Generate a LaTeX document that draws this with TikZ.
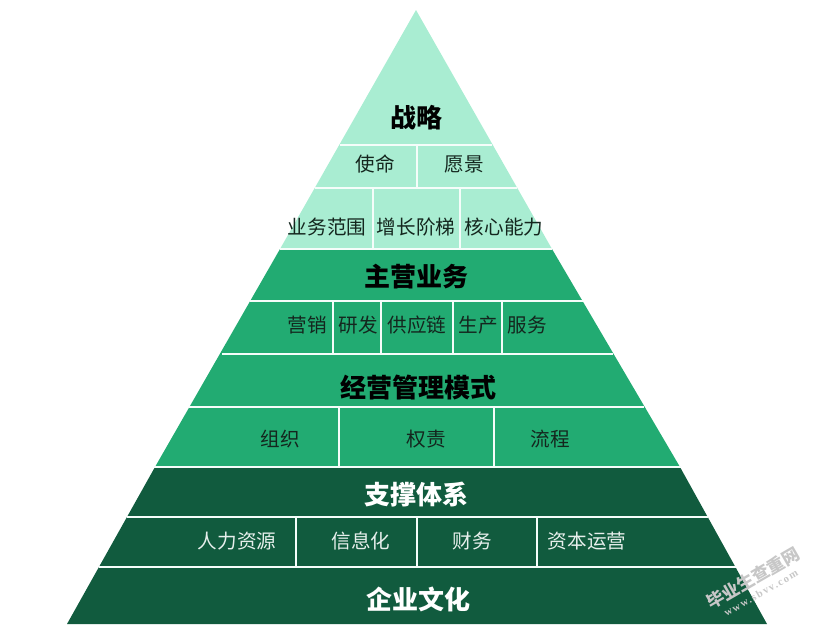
\documentclass[tikz,border=0pt]{standalone}
\usepackage{fontspec}
\setmainfont{Noto Sans CJK SC}
\newfontfamily\sitefont[LetterSpace=14]{Liberation Serif}
\usepackage{xcolor}
\definecolor{LightTier}{HTML}{A9EDD2}
\definecolor{MidTier}{HTML}{22AB72}
\definecolor{DarkTier}{HTML}{115B3E}
\definecolor{DarkInk}{HTML}{14261E}
\tikzset{
  rule/.style={draw=white!88!LightTier,line width=1.1pt},
  item/.style={inner sep=0pt,font=\fontsize{14.7pt}{15pt}\selectfont,text=DarkInk},
  title/.style={inner sep=0pt,font=\fontsize{19.5pt}{19.5pt}\selectfont\bfseries,text=black},
  itemw/.style={item,text=white!90!DarkTier},
  titlew/.style={title,text=white},
  mark text/.style={inner sep=0pt,rotate=30,text=black!22}
}
\begin{document}
\begin{tikzpicture}[x=0.75pt,y=-0.75pt]
\useasboundingbox (0,0) rectangle (824,628);

% tiers
\fill[LightTier](416,10)--(552,249)--(280,249)--cycle;
\fill[MidTier](280,249)--(552,249)--(680,467)--(155,467)--cycle;
\fill[DarkTier](155,467)--(680,467)--(767,624)--(67,624)--cycle;

% horizontal rules
\draw[rule](340,145)--(492,145);
\draw[rule](315,188)--(517,188);
\draw[rule](280,249)--(552,249);
\draw[rule](250,301)--(583,301);
\draw[rule](222,354)--(613,354);
\draw[rule](189,407)--(644,407);
\draw[rule](154,467)--(681,467);
\draw[rule](127,517)--(708,517);
\draw[rule](99,567)--(736,567);

% cell dividers
\foreach \x in {417}
  \draw[rule](\x,145)--(\x,188);
\foreach \x in {373,460}
  \draw[rule](\x,188)--(\x,249);
\foreach \x in {333,381,453,502}
  \draw[rule](\x,301)--(\x,354);
\foreach \x in {339,494}
  \draw[rule](\x,407)--(\x,467);
\foreach \x in {296,417,537}
  \draw[rule](\x,517)--(\x,567);

% labels
\node[title] (strategy) at (416,118) {战略};
\node[item] (mission) at (375,164) {使命};
\node[item] (vision) at (464,164) {愿景};
\node[item] (scope) at (327,227) {业务范围};
\node[item] (growth) at (416,227) {增长阶梯};
\node[item] (core) at (504,227) {核心能力};

\node[title] (business) at (416,277) {主营业务};
\node[item] (sales) at (307,325) {营销};
\node[item] (research) at (358,325) {研发};
\node[item] (supply) at (417,325) {供应链};
\node[item] (produce) at (478,325) {生产};
\node[item] (service) at (527,325) {服务};

\node[title] (model) at (418,388) {经营管理模式};
\node[item] (organize) at (280,439) {组织};
\node[item] (rights) at (426,439) {权责};
\node[item] (process) at (550,439) {流程};

\node[titlew] (support) at (416,495) {支撑体系};
\node[itemw] (people) at (237,541) {人力资源};
\node[itemw] (info) at (361,541) {信息化};
\node[itemw] (finance) at (472,541) {财务};
\node[itemw] (capital) at (587,541) {资本运营};
\node[titlew] (culture) at (418,599) {企业文化};

% watermark
\node[mark text,font=\fontsize{13pt}{13pt}\selectfont\bfseries] (stamp) at (753,578) {毕业生查重网};
\node[mark text,font=\fontsize{8pt}{8pt}\sitefont\bfseries] (site) at (761,593) {www.sbvv.com};
\end{tikzpicture}
\end{document}
